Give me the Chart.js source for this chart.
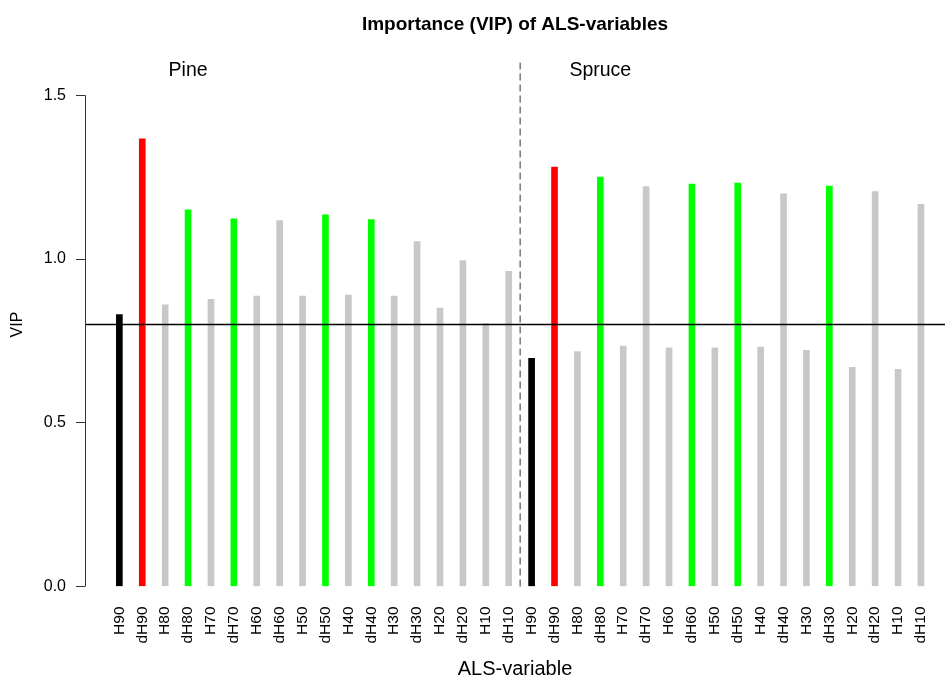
<!DOCTYPE html>
<html>
<head>
<meta charset="utf-8">
<script src="https://cdn.jsdelivr.net/npm/chart.js@4/dist/chart.umd.min.js"></script>
<style>
  html, body { margin: 0; padding: 0; background: #fff; }
</style>
</head>
<body>
<canvas id="vip" width="945" height="678"></canvas>
<script>
// ALS variables, same order for both species
const variables = ['H90', 'dH90', 'H80', 'dH80', 'H70', 'dH70', 'H60', 'dH60', 'H50',
                   'dH50', 'H40', 'dH40', 'H30', 'dH30', 'H20', 'dH20', 'H10', 'dH10'];
const pineVip = [0.83, 1.367, 0.86, 1.15, 0.877, 1.123, 0.887, 1.117, 0.887,
                 1.135, 0.89, 1.12, 0.887, 1.053, 0.85, 0.995, 0.803, 0.962];
const spruceVip = [0.697, 1.281, 0.717, 1.25, 0.734, 1.221, 0.729, 1.229, 0.729,
                   1.232, 0.731, 1.199, 0.721, 1.223, 0.669, 1.206, 0.663, 1.167];
const pineSelected = ['dH80', 'dH70', 'dH50', 'dH40'];
const spruceSelected = ['dH80', 'dH60', 'dH50', 'dH30'];
const yTicks = [0, 0.5, 1.0, 1.5];
const vipThreshold = 0.8;

const FONT = '"Liberation Sans", Arial, sans-serif';

let labels = variables.concat(variables);
let values = pineVip.concat(spruceVip);

function barColor(name, selected) {
    if (name === 'H90') return '#000000';
    if (name === 'dH90') return '#ff0000';
    if (selected.includes(name)) return '#00ff00';
    return '#c8c8c8';
}
let colors = variables.map(v => barColor(v, pineSelected))
    .concat(variables.map(v => barColor(v, spruceSelected)));

// threshold line, species divider, species names, short y axis line
const decorations = {
    id: 'decorations',
    afterDatasetsDraw(chart) {
        const {ctx, chartArea, scales: {x, y}} = chart;
        ctx.save();

        ctx.strokeStyle = '#000';
        ctx.lineWidth = 1.5;
        let ty = y.getPixelForValue(vipThreshold);
        ctx.beginPath();
        ctx.moveTo(chartArea.left, ty);
        ctx.lineTo(chartArea.right, ty);
        ctx.stroke();

        ctx.strokeStyle = '#333';
        ctx.lineWidth = 1;
        ctx.beginPath();
        ctx.moveTo(chartArea.left + 0.5, y.getPixelForValue(yTicks[0]));
        ctx.lineTo(chartArea.left + 0.5, y.getPixelForValue(yTicks[yTicks.length - 1]));
        ctx.stroke();

        let dx = x.getPixelForValue(variables.length - 0.5);
        ctx.strokeStyle = '#555';
        ctx.lineWidth = 1.2;
        ctx.setLineDash([7, 4]);
        ctx.beginPath();
        ctx.moveTo(dx, chartArea.top);
        ctx.lineTo(dx, chartArea.bottom);
        ctx.stroke();
        ctx.setLineDash([]);

        ctx.fillStyle = '#000';
        ctx.font = '19.5px ' + FONT;
        ctx.textAlign = 'center';
        ctx.textBaseline = 'middle';
        ctx.fillText('Pine', x.getPixelForValue(3), y.getPixelForValue(1.575));
        ctx.fillText('Spruce', x.getPixelForValue(21), y.getPixelForValue(1.575));
        ctx.restore();
    }
};

new Chart(document.getElementById('vip'), {
    type: 'bar',
    data: {
        datasets: [{
            data: values.map((v, i) => ({x: i, y: v})),
            backgroundColor: colors,
            barThickness: 6,
            borderWidth: 0,
        }]
    },
    options: {
        responsive: false,
        devicePixelRatio: 1,
        animation: false,
        layout: {padding: 0},
        plugins: {
            legend: {display: false},
            tooltip: {enabled: false},
            title: {
                display: true,
                text: 'Importance (VIP) of ALS-variables',
                fullSize: false,
                color: '#000',
                font: {family: FONT, size: 19, weight: 'bold'},
                padding: {top: 13.6, bottom: 26.1}
            }
        },
        scales: {
            x: {
                type: 'linear',
                min: -1.5,
                max: 36.05,
                offset: false,
                afterFit: s => {
                    s.height = 91.5;
                    s.paddingLeft = 0;
                    s.paddingRight = 0;
                },
                afterBuildTicks: s => { s.ticks = labels.map((_, i) => ({value: i})); },
                grid: {display: false, drawTicks: false},
                border: {display: false},
                ticks: {
                    autoSkip: false,
                    minRotation: 90,
                    maxRotation: 90,
                    padding: 20,
                    color: '#000',
                    font: {family: FONT, size: 15.5},
                    callback: v => labels[v]
                },
                title: {
                    display: true,
                    text: 'ALS-variable',
                    color: '#000',
                    font: {family: FONT, size: 20},
                    padding: {top: 0, bottom: -3}
                }
            },
            y: {
                min: 0,
                max: 1.6,
                afterFit: s => {
                    s.width = 85;
                    s.paddingTop = 0;
                    s.paddingBottom = 0;
                },
                afterBuildTicks: s => { s.ticks = yTicks.map(v => ({value: v})); },
                grid: {drawOnChartArea: false, drawTicks: true, tickLength: 9, color: '#333'},
                border: {display: false},
                ticks: {
                    padding: 10,
                    color: '#000',
                    font: {family: FONT, size: 16},
                    callback: v => v.toFixed(1)
                },
                title: {
                    display: true,
                    text: 'VIP',
                    color: '#000',
                    font: {family: FONT, size: 16},
                    padding: {top: 8.4, bottom: 0}
                }
            }
        }
    },
    plugins: [decorations]
});
</script>
</body>
</html>
